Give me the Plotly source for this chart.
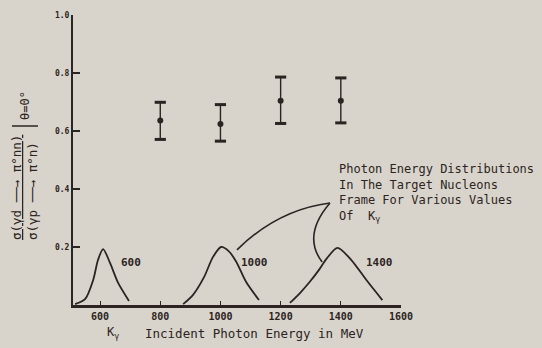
import plotly.graph_objects as go

# ---- data ----
k_gamma = [800, 1000, 1200, 1400]
ratio = [0.636, 0.624, 0.704, 0.704]
err_plus = [0.063, 0.067, 0.082, 0.079]
err_minus = [0.065, 0.059, 0.078, 0.076]

dist600_E = [517, 550, 577, 593, 610, 633, 660, 696]
dist600_v = [0.003, 0.02, 0.086, 0.155, 0.193, 0.145, 0.076, 0.014]
dist1000_E = [876, 909, 945, 975, 1002, 1028, 1052, 1085, 1128]
dist1000_v = [0.003, 0.035, 0.095, 0.165, 0.2, 0.185, 0.15, 0.08, 0.017]
dist1400_E = [1231, 1265, 1297, 1328, 1353, 1389, 1435, 1485, 1538]
dist1400_v = [0.007, 0.042, 0.08, 0.122, 0.16, 0.197, 0.155, 0.086, 0.017]

dist_labels = ["600", "1000", "1400"]
dist_label_E = [703, 1112, 1528]
dist_label_v = [0.148, 0.145, 0.145]

x_ticks = [600, 800, 1000, 1200, 1400, 1600]
x_tick_text = ["600", "800", "1000", "1200", "1400", "1600"]
y_ticks = [0.2, 0.4, 0.6, 0.8, 1.0]
y_tick_text = ["0.2", "0.4", "0.6", "0.8", "1.0"]

INK = "#2b2422"
BG = "#d9d4cb"
FONT = "DejaVu Sans Mono"

fig = go.Figure()

for E, v in [(dist600_E, dist600_v), (dist1000_E, dist1000_v), (dist1400_E, dist1400_v)]:
    fig.add_trace(go.Scatter(x=E, y=v, mode="lines",
                             line=dict(color=INK, width=1.8, shape="spline", smoothing=0.8),
                             hoverinfo="skip", showlegend=False))

fig.add_trace(go.Scatter(
    x=k_gamma, y=ratio, mode="markers",
    marker=dict(color=INK, size=6),
    error_y=dict(type="data", symmetric=False, array=err_plus, arrayminus=err_minus,
                 color=INK, thickness=1.4, width=4),
    showlegend=False))

# bold caps on the error bars
caps_x = k_gamma + k_gamma
caps_y = [r + p for r, p in zip(ratio, err_plus)] + [r - m for r, m in zip(ratio, err_minus)]
fig.add_trace(go.Scatter(x=caps_x, y=caps_y, mode="markers",
                         marker=dict(symbol="line-ew", size=8, line=dict(color=INK, width=3)),
                         hoverinfo="skip", showlegend=False))

for t, e, v in zip(dist_labels, dist_label_E, dist_label_v):
    fig.add_annotation(x=e, y=v, xref="x", yref="y", text=t, showarrow=False,
                       xanchor="center", yanchor="middle",
                       font=dict(family=FONT, size=11, color=INK, weight="bold"))

# callout text
fig.add_annotation(x=1387, y=0.50, xref="x", yref="y", xanchor="left", yanchor="top", align="left",
                   text="Photon Energy Distributions<br>In The Target Nucleons<br>"
                        "Frame For Various Values<br>Of\u00a0\u00a0K<sub>γ</sub>",
                   showarrow=False, font=dict(family=FONT, size=12, color=INK))

# leader lines
fig.add_shape(type="path", xref="x", yref="y",
              path="M 1055,0.190 Q 1190,0.329 1364,0.352", line=dict(color=INK, width=1.6))
fig.add_shape(type="path", xref="x", yref="y",
              path="M 1364,0.352 Q 1271,0.240 1338,0.148", line=dict(color=INK, width=1.6))

# x axis title
fig.add_annotation(x=(113 - 73) / 328, y=-(333 - 305) / 290, xref="paper", yref="paper",
                   xanchor="center", yanchor="middle",
                   text="K<sub>γ</sub>", showarrow=False,
                   font=dict(family=FONT, size=12, color=INK))
fig.add_annotation(x=(143 - 73) / 328, y=-(333 - 305) / 290, xref="paper", yref="paper",
                   xanchor="left", yanchor="middle", text="Incident Photon Energy in MeV",
                   showarrow=False, font=dict(family=FONT, size=12.5, color=INK))

# y axis title (fraction)
fig.add_annotation(x=(24 - 73) / 328, y=(305 - 188) / 290, xref="paper", yref="paper",
                   xanchor="center", yanchor="middle",
                   text="<u>σ(γd ──→ π°nn)</u><br>σ(γp ──→ π°n)\u00a0", textangle=-90, showarrow=False,
                   font=dict(family=FONT, size=12.5, color=INK))
fig.add_annotation(x=(25 - 73) / 328, y=(305 - 106) / 290, xref="paper", yref="paper",
                   xanchor="center", yanchor="middle",
                   text="θ=0°", textangle=-90, showarrow=False,
                   font=dict(family=FONT, size=12, color=INK))
fig.add_shape(type="line", xref="paper", yref="paper",
              x0=(12 - 73) / 328, x1=(38 - 73) / 328, y0=(305 - 126) / 290, y1=(305 - 126) / 290,
              line=dict(color=INK, width=1.5))

fig.update_layout(
    width=542, height=348,
    margin=dict(l=73, r=141, t=15, b=43),
    paper_bgcolor=BG, plot_bgcolor=BG,
    font=dict(family=FONT, color=INK),
    xaxis=dict(range=[510, 1600], showgrid=False, zeroline=False, showline=True,
               linecolor=INK, linewidth=2.5, ticks="inside", ticklen=4, tickwidth=1.2,
               tickcolor=INK, tickvals=x_ticks, ticktext=x_tick_text,
               tickfont=dict(family=FONT, size=10, color=INK, weight="bold")),
    yaxis=dict(range=[0, 1.0], showgrid=False, zeroline=False, showline=True,
               linecolor=INK, linewidth=2, ticks="inside", ticklen=7, tickwidth=2,
               tickcolor=INK, tickvals=y_ticks, ticktext=y_tick_text,
               tickfont=dict(family=FONT, size=8, color=INK, weight="bold")),
)

fig.write_html("out.html")
